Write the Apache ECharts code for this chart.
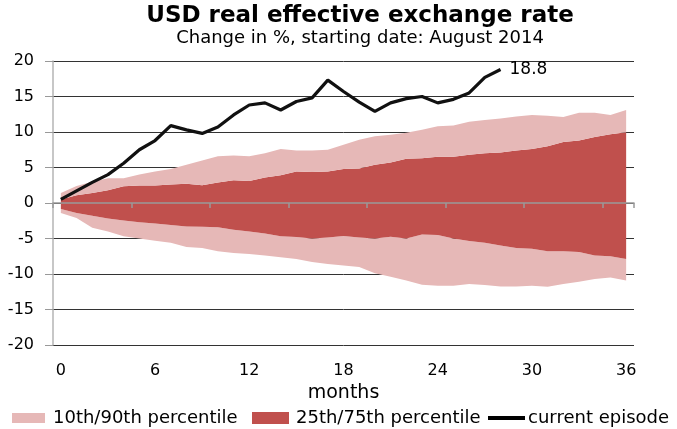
<!DOCTYPE html>
<html>
<head>
<meta charset="utf-8">
<script src="https://cdn.jsdelivr.net/npm/echarts@6/dist/echarts.min.js"></script>
<style>
  html, body { margin: 0; padding: 0; background: #fff; }
  #chart { width: 677px; height: 429px; }
</style>
</head>
<body>
<div id="chart"></div>
<script>
// Months since the start of the episode (x categories)
const months = ['0','1','2','3','4','5','6','7','8','9','10','11','12','13','14','15','16','17','18',
  '19','20','21','22','23','24','25','26','27','28','29','30','31','32','33','34','35','36'];

// Y axis range / step
const yMin = -20, yMax = 20, yStep = 5;

// Percentiles of past USD appreciation episodes (% change)
const p90 = [1.4,2.4,3.0,3.5,3.5,4.0,4.45,4.8,5.4,6.0,6.6,6.7,6.6,7.0,7.6,7.4,7.4,7.5,8.2,8.9,9.4,9.6,9.9,
  10.3,10.8,10.9,11.45,11.7,11.9,12.2,12.4,12.3,12.1,12.7,12.7,12.4,13.1];
const p75 = [0.5,1.1,1.4,1.8,2.35,2.45,2.45,2.6,2.7,2.5,2.9,3.2,3.1,3.6,3.9,4.45,4.35,4.45,4.8,4.85,5.4,
  5.7,6.25,6.3,6.5,6.5,6.8,7.0,7.1,7.4,7.6,8.0,8.6,8.8,9.3,9.7,9.95];
const p25 = [-0.85,-1.4,-1.8,-2.2,-2.45,-2.7,-2.9,-3.1,-3.3,-3.35,-3.4,-3.75,-4.0,-4.3,-4.7,-4.8,-5.0,
  -4.85,-4.65,-4.85,-5.0,-4.75,-5.0,-4.45,-4.5,-5.0,-5.35,-5.6,-6.0,-6.35,-6.45,-6.8,-6.8,-6.9,-7.4,-7.5,-7.9];
const p10 = [-1.4,-2.1,-3.5,-4.0,-4.7,-5.0,-5.3,-5.6,-6.2,-6.35,-6.8,-7.05,-7.2,-7.4,-7.65,-7.9,-8.3,
  -8.6,-8.8,-9.0,-9.9,-10.4,-10.9,-11.5,-11.65,-11.65,-11.4,-11.55,-11.75,-11.75,-11.65,-11.8,-11.4,-11.1,-10.7,-10.5,-10.9];

// Current episode, starting August 2014
const current = [0.5,1.7,2.9,4.0,5.6,7.5,8.8,10.9,10.3,9.8,10.7,12.4,13.8,14.1,13.1,14.3,14.8,17.3,15.7,
  14.2,12.9,14.1,14.7,15.0,14.1,14.6,15.5,17.7,18.8];

const outerName = '10th/90th percentile';
const innerName = '25th/75th percentile';
const lineName = 'current episode';

const PINK = '#E6B8B7';
const RED = '#C0504D';
const FONT = '"DejaVu Sans", "Liberation Sans", Arial, sans-serif';

// Band thicknesses stacked on top of the 10th percentile
const diff = (a, b) => a.map((v, i) => +(v - b[i]).toFixed(3));

function bandSeries(name, data, color) {
  return {
    name, type: 'line', data, stack: 'bands', stackStrategy: 'all',
    symbol: 'none', silent: true, smooth: false,
    lineStyle: { width: 0, opacity: 0 },
    itemStyle: { color },
    areaStyle: { color, opacity: 1 },
    z: 2
  };
}

const legendText = { fontFamily: FONT, fontSize: 18, color: '#000' };

const chart = echarts.init(document.getElementById('chart'), null, { renderer: 'canvas' });

chart.setOption({
  animation: false,
  backgroundColor: '#fff',
  title: [
    {
      text: 'USD real effective exchange rate',
      left: 360, textAlign: 'center', top: 5, padding: 0,
      textStyle: { fontFamily: FONT, fontSize: 23, fontWeight: 'bold', color: '#000' }
    },
    {
      text: 'Change in %, starting date: August 2014',
      left: 360, textAlign: 'center', top: 29, padding: 0,
      textStyle: { fontFamily: FONT, fontSize: 18, fontWeight: 'normal', color: '#000' }
    }
  ],
  legend: [
    {
      data: [{ name: outerName, icon: 'rect', itemStyle: { color: PINK } }],
      left: 12, top: 409, padding: 0, itemWidth: 33, itemHeight: 10,
      textStyle: Object.assign({ padding: [0, 0, 0, 3] }, legendText)
    },
    {
      data: [{ name: innerName, icon: 'rect', itemStyle: { color: RED } }],
      left: 252, top: 409, padding: 0, itemWidth: 37, itemHeight: 12,
      textStyle: Object.assign({ padding: [0, 0, 0, 2] }, legendText)
    },
    {
      data: [{ name: lineName, icon: 'rect', itemStyle: { color: '#000' } }],
      left: 488, top: 409, padding: 0, itemWidth: 37, itemHeight: 4,
      textStyle: Object.assign({ padding: [0, 0, 0, -2] }, legendText)
    }
  ],
  grid: { left: 53, right: 43, top: 61, bottom: 84, containLabel: false },
  xAxis: [
    {
      type: 'category', data: months, boundaryGap: true,
      axisLine: { show: false, onZero: false },
      axisTick: { show: false },
      axisLabel: { interval: 5, margin: 18, fontFamily: FONT, fontSize: 16, color: '#000' },
      name: 'months', nameLocation: 'middle', nameGap: 36,
      nameTextStyle: { fontFamily: FONT, fontSize: 19, color: '#000' }
    },
    {
      // zero line with month ticks
      type: 'category', data: months, boundaryGap: true, position: 'bottom', z: 10,
      axisLine: { show: true, onZero: true, onZeroAxisIndex: 0, lineStyle: { color: '#999', width: 1.5 } },
      axisTick: { show: true, interval: 4, length: 5, lineStyle: { color: '#999', width: 1.5 } },
      axisLabel: { show: false },
      splitLine: { show: false }
    }
  ],
  yAxis: {
    type: 'value', min: yMin, max: yMax, interval: yStep,
    axisLine: { show: true, lineStyle: { color: '#b5b5b5', width: 1.5 } },
    axisTick: { show: true, length: 8, lineStyle: { color: '#999' } },
    axisLabel: { margin: 19, fontFamily: FONT, fontSize: 16, color: '#000' },
    splitLine: { show: true, lineStyle: { color: '#333', width: 1 } }
  },
  series: [
    {
      name: 'base', type: 'line', data: p10, stack: 'bands', stackStrategy: 'all',
      symbol: 'none', silent: true, lineStyle: { width: 0, opacity: 0 }, z: 2
    },
    bandSeries(outerName, diff(p25, p10), PINK),
    bandSeries(innerName, diff(p75, p25), RED),
    bandSeries(outerName, diff(p90, p75), PINK),
    {
      name: lineName, type: 'line', data: current,
      symbol: 'none', silent: true,
      lineStyle: { color: '#111', width: 3.2 },
      itemStyle: { color: '#000' },
      z: 5,
      endLabel: {
        show: true, distance: 9,
        formatter: p => p.value.toFixed(1),
        fontFamily: FONT, fontSize: 17, color: '#000'
      }
    }
  ]
});
</script>
</body>
</html>
